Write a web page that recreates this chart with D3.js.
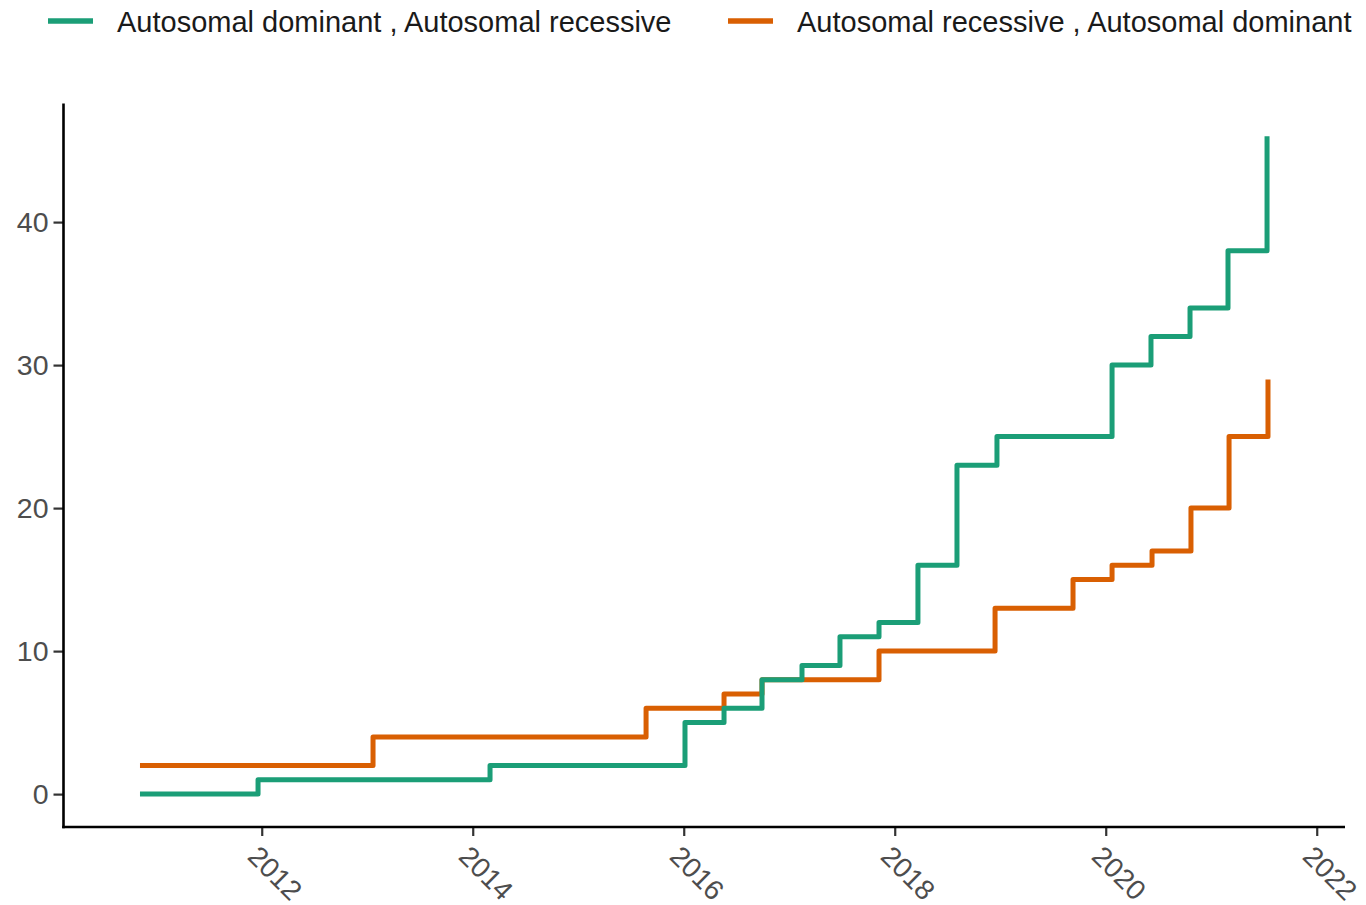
<!DOCTYPE html>
<html>
<head>
<meta charset="utf-8">
<script src="https://cdn.jsdelivr.net/npm/d3@7"></script>
<style>
  html, body { margin: 0; padding: 0; background: #ffffff; }
  svg { display: block; font-family: "Liberation Sans", Arial, Helvetica, sans-serif; }
</style>
</head>
<body>
<svg id="chart" width="1366" height="905"></svg>
<script>
// Cumulative counts by decimal year (step after each date)
const seriesNames = ["Autosomal dominant , Autosomal recessive", "Autosomal recessive , Autosomal dominant"];
const seriesColors = ["#1b9e77", "#d95f02"];

const domRecYears = [2010.846, 2011.965, 2014.164, 2016.012, 2016.382, 2016.742, 2017.121, 2017.481,
                     2017.851, 2018.220, 2018.590, 2018.969, 2020.060, 2020.429, 2020.799, 2021.159, 2021.529];
const domRecCounts = [0, 1, 2, 5, 6, 8, 9, 11, 12, 16, 23, 25, 30, 32, 34, 38, 46];

const recDomYears = [2010.846, 2013.055, 2015.643, 2016.382, 2016.742, 2017.851, 2018.951, 2019.690,
                     2020.060, 2020.439, 2020.808, 2021.169, 2021.538];
const recDomCounts = [2, 4, 6, 7, 8, 10, 13, 15, 16, 17, 20, 25, 29];

const xTicks = [2012, 2014, 2016, 2018, 2020, 2022];
const yTicks = [0, 10, 20, 30, 40];

const svg = d3.select("#chart");
const plotLeft = 63.5, plotRight = 1345, plotTop = 103.4, plotBottom = 827;

const x = d3.scaleLinear().domain([2010.121, 2022.268]).range([plotLeft, plotRight]);
const y = d3.scaleLinear().domain([-2.3, 48.3]).range([plotBottom, plotTop]);

const line = d3.line()
  .x(d => x(d[0]))
  .y(d => y(d[1]))
  .curve(d3.curveStepAfter);

const series = [
  { name: seriesNames[0], color: seriesColors[0], pts: d3.zip(domRecYears, domRecCounts) },
  { name: seriesNames[1], color: seriesColors[1], pts: d3.zip(recDomYears, recDomCounts) }
];

// draw orange first so green sits on top where they overlap
[series[1], series[0]].forEach(s => {
  svg.append("path")
    .datum(s.pts)
    .attr("d", line)
    .attr("fill", "none")
    .attr("stroke", s.color)
    .attr("stroke-width", 5)
    .attr("stroke-linejoin", "round")
    .attr("stroke-linecap", "butt");
});

// Y axis
const yAxis = svg.append("g").attr("transform", `translate(${plotLeft},0)`)
  .call(d3.axisLeft(y).tickValues(yTicks).tickSize(10).tickPadding(5));
yAxis.select(".domain").remove();
yAxis.selectAll(".tick line").attr("stroke", "#333333").attr("stroke-width", 2.2);
yAxis.selectAll(".tick text").attr("fill", "#4d4d4d").attr("font-size", 28.5)
  .attr("font-family", "Liberation Sans, Arial, sans-serif");

// X axis
const xAxis = svg.append("g").attr("transform", `translate(0,${plotBottom})`)
  .call(d3.axisBottom(x).tickValues(xTicks).tickFormat(d3.format("d")).tickSize(9));
xAxis.select(".domain").remove();
xAxis.selectAll(".tick line").attr("stroke", "#333333").attr("stroke-width", 2.2);
xAxis.selectAll(".tick text")
  .attr("fill", "#4d4d4d").attr("font-size", 28)
  .attr("font-family", "Liberation Sans, Arial, sans-serif")
  .attr("text-anchor", "start")
  .attr("dy", null)
  .attr("y", 0)
  .attr("transform", "translate(-16,31) rotate(45)");

// axis lines
svg.append("line").attr("x1", plotLeft).attr("x2", plotLeft).attr("y1", plotTop).attr("y2", plotBottom + 1.2)
  .attr("stroke", "#000").attr("stroke-width", 2.6);
svg.append("line").attr("x1", plotLeft - 1.3).attr("x2", plotRight).attr("y1", plotBottom).attr("y2", plotBottom)
  .attr("stroke", "#000").attr("stroke-width", 2.6);

// Legend
const legendX = [48, 728];
series.forEach((s, i) => {
  const g = svg.append("g").attr("transform", `translate(${legendX[i]},21)`);
  g.append("line").attr("x1", 0).attr("x2", 45).attr("y1", 0).attr("y2", 0)
    .attr("stroke", s.color).attr("stroke-width", 5.5);
  g.append("text").attr("x", 69).attr("y", 10.5)
    .attr("font-size", 29).attr("fill", "#1a1a1a")
    .text(s.name);
});
</script>
</body>
</html>
